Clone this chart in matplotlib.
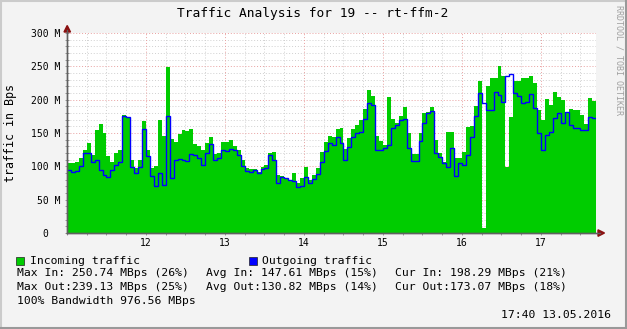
import numpy as np
import matplotlib
matplotlib.use("Agg")
import matplotlib.pyplot as plt
from matplotlib.patches import Rectangle, Polygon
from matplotlib.lines import Line2D

# ---------------- data (MBps, 3-minute samples from 11:00) ----------------
incoming = [
    104.5, 105.5, 107, 112, 124.5, 135.5, 117, 154.5, 163.5, 149.5,
    115.5, 107, 119.5, 124.5, 177, 174.5, 110, 97, 109.5, 168.5,
    124.5, 97, 100, 170, 145.5, 249, 140.5, 137, 148.5, 154.5,
    153.5, 156, 133, 130, 124.5, 135, 143.5, 119, 120.5, 137,
    137, 139.5, 130, 124.5, 110, 97, 96, 95.5, 92, 98.5,
    102, 120.5, 122, 87, 85.5, 82, 79.5, 90.5, 74.5, 83,
    98.5, 80, 87, 97, 122, 137, 145, 143.5, 155.5, 157,
    125.5, 142, 155.5, 162, 169.5, 185.5, 214.5, 205.5, 145.5, 138,
    132, 204, 170.5, 165.5, 175.5, 188.5, 149.5, 118.5, 118.5, 149.5,
    179.5, 182, 188.5, 139.5, 120.5, 106, 152, 152, 112, 112,
    122, 159, 160, 190, 228, 7, 220, 232, 232, 250.74,
    235.5, 99.5, 173.5, 228.5, 228.5, 232, 232, 235.5, 224.5, 184.5,
    170, 200.5, 192, 212, 204.5, 199.5, 182, 185.5, 184.5, 185,
    177, 163.5, 202, 198.29,
]
outgoing = [
    94.5, 92, 93.5, 101, 120.5, 120.5, 107, 109.5, 94.5, 87,
    83.5, 94.5, 102, 107, 175.5, 173.5, 99.5, 90.5, 99.5, 155.5,
    115.5, 85, 70.5, 90, 71.5, 175.5, 82, 109.5, 110.5, 109.5,
    108.5, 118, 116.5, 112, 102, 120, 133, 110, 112, 125,
    123.5, 125.5, 124.5, 117, 100, 93.5, 92, 94.5, 89.5, 95.5,
    97, 117, 110, 74.5, 84.5, 82, 79.5, 78.5, 69.5, 71,
    83.5, 75, 80.5, 88.5, 107, 123.5, 135, 132, 143.5, 135,
    110, 129.5, 143.5, 149.5, 152, 170.5, 194.5, 192, 124.5, 124.5,
    128, 132, 157, 162, 169.5, 170.5, 127, 108.5, 108.5, 138,
    165, 179.5, 183.5, 119.5, 114.5, 105, 98.5, 127, 86, 104.5,
    102, 117, 144.5, 175, 210, 195.5, 185, 184.5, 212, 207,
    197, 235, 239.13, 210, 205.5, 195.5, 197, 208.5, 187, 150,
    125, 147, 152, 172, 179.5, 164.5, 181.5, 162, 157, 157,
    154.5, 155, 174.5, 173.07,
]
start_hour = 11.0
step_minutes = 3
end_hour = 17.0 + 41.8 / 60

hour_ticks = [12, 13, 14, 15, 16, 17]
hour_labels = ["12", "13", "14", "15", "16", "17"]
y_ticks = [0, 50, 100, 150, 200, 250, 300]
y_labels = ["0  ", "50 M", "100 M", "150 M", "200 M", "250 M", "300 M"]

title = "Traffic Analysis for 19 -- rt-ffm-2"
y_title = "traffic in Bps"
legend_names = ["Incoming traffic", "Outgoing traffic"]
stats_in = ["Max In: 250.74 MBps (26%)", "Avg In: 147.61 MBps (15%)", "Cur In: 198.29 MBps (21%)"]
stats_out = ["Max Out:239.13 MBps (25%)", "Avg Out:130.82 MBps (14%)", "Cur Out:173.07 MBps (18%)"]
bandwidth_note = "100% Bandwidth 976.56 MBps"
timestamp = "17:40 13.05.2016"
watermark = "RRDTOOL / TOBI OETIKER"

GREEN = "#00CC00"
BLUE = "#0000FF"
MONO = "DejaVu Sans Mono"

# ---------------- figure ----------------
W, H = 627, 329
fig = plt.figure(figsize=(W / 100, H / 100), dpi=100, facecolor="#F3F3F3")


def fx(x):
    return x / W


def fy(y):
    return 1 - y / H


# frame (3D shading)
fig.add_artist(Line2D([fx(0.5), fx(0.5)], [fy(0), fy(H)], color="#CBCBCB", lw=1.5))
fig.add_artist(Line2D([fx(0), fx(W)], [fy(0.5), fy(0.5)], color="#CBCBCB", lw=1.5))
fig.add_artist(Line2D([fx(W - 1), fx(W - 1)], [fy(0), fy(H)], color="#999999", lw=1.5))
fig.add_artist(Line2D([fx(0), fx(W)], [fy(H - 1), fy(H - 1)], color="#999999", lw=1.5))

ax = fig.add_axes([fx(67), fy(233), 529 / W, 200 / H])
ax.set_facecolor("white")

edges = start_hour + np.arange(len(incoming) + 1) * step_minutes / 60.0
ax.stairs(incoming, edges, fill=True, color=GREEN, zorder=3, baseline=0)
ax.stairs(outgoing, edges, color=BLUE, lw=1.0, zorder=4, baseline=None)

ax.set_xlim(start_hour, end_hour)
ax.set_ylim(0, 300)

# grid
for v in np.arange(10, 300, 10):
    if v % 50 == 0:
        continue
    ax.axhline(v, color="#D0D0D0", lw=0.7, ls=(0, (1, 2)), zorder=1)
for v in y_ticks[1:]:
    ax.axhline(v, color="#E8A0A0", lw=0.7, ls=(0, (1, 2)), zorder=1.5)
for q in np.arange(start_hour + 0.25, end_hour, 0.25):
    if abs(q - round(q)) < 1e-6:
        continue
    ax.axvline(q, color="#D0D0D0", lw=0.7, ls=(0, (1, 2)), zorder=1)
for h in hour_ticks:
    ax.axvline(h, color="#E8A0A0", lw=0.7, ls=(0, (1, 2)), zorder=1.5)

ax.set_yticks(y_ticks)
ax.set_yticklabels(y_labels, fontfamily=MONO, fontsize=7)
ax.set_yticks(np.arange(0, 301, 10), minor=True)
ax.set_xticks(hour_ticks)
ax.set_xticklabels(hour_labels, fontfamily=MONO, fontsize=7)
ax.set_xticks(np.arange(start_hour, end_hour, 0.25), minor=True)
ax.tick_params(axis="both", which="both", direction="inout", length=3, width=0.6,
               color="#888888", labelcolor="black")
ax.tick_params(axis="y", which="major", pad=3)
ax.tick_params(axis="x", which="major", pad=2)

for s in ["top", "right"]:
    ax.spines[s].set_visible(False)
for s in ["left", "bottom"]:
    ax.spines[s].set_color("#606060")
    ax.spines[s].set_linewidth(1.0)
    ax.spines[s].set_zorder(5)

# axis extensions and arrows
fig.add_artist(Line2D([fx(67), fx(67)], [fy(233), fy(30)], color="#606060", lw=1.0))
fig.add_artist(Line2D([fx(67), fx(600)], [fy(233), fy(233)], color="#606060", lw=1.0))
fig.add_artist(Polygon([[fx(64), fy(32)], [fx(70.5), fy(32)], [fx(67.2), fy(25.5)]],
                       closed=True, color="#8B1010", transform=fig.transFigure))
fig.add_artist(Polygon([[fx(598), fy(229.8)], [fx(598), fy(236.3)], [fx(604.5), fy(233)]],
                       closed=True, color="#8B1010", transform=fig.transFigure))

# texts
fig.text(fx(313), fy(14), title, ha="center", va="center", fontfamily=MONO, fontsize=9.3)
fig.text(fx(11), fy(133), y_title, ha="center", va="center", rotation=90,
         fontfamily=MONO, fontsize=8.4)
fig.text(fx(619), fy(5), watermark, ha="center", va="top", rotation=-90,
         fontfamily=MONO, fontsize=6, color="#A0A0A0")

# legend
fig.add_artist(Rectangle((fx(16), fy(264.5)), 8 / W, 8 / H, facecolor=GREEN,
                         edgecolor="#202020", lw=0.5, transform=fig.transFigure))
fig.add_artist(Rectangle((fx(248.5), fy(264.5)), 8 / W, 8 / H, facecolor=BLUE,
                         edgecolor="#202020", lw=0.5, transform=fig.transFigure))
fs = 8.2
fig.text(fx(30.5), fy(260.5), legend_names[0], va="center", fontfamily=MONO, fontsize=fs)
fig.text(fx(262.5), fy(260.5), legend_names[1], va="center", fontfamily=MONO, fontsize=fs)
cols = [17, 206, 395]
for c, t in zip(cols, stats_in):
    fig.text(fx(c), fy(273.5), t, va="center", fontfamily=MONO, fontsize=fs)
for c, t in zip(cols, stats_out):
    fig.text(fx(c), fy(287.5), t, va="center", fontfamily=MONO, fontsize=fs)
fig.text(fx(17), fy(301), bandwidth_note, va="center", fontfamily=MONO, fontsize=fs)
fig.text(fx(611), fy(314.5), timestamp, ha="right", va="center", fontfamily=MONO, fontsize=fs)

fig.savefig("out.png", dpi=100, facecolor=fig.get_facecolor())
